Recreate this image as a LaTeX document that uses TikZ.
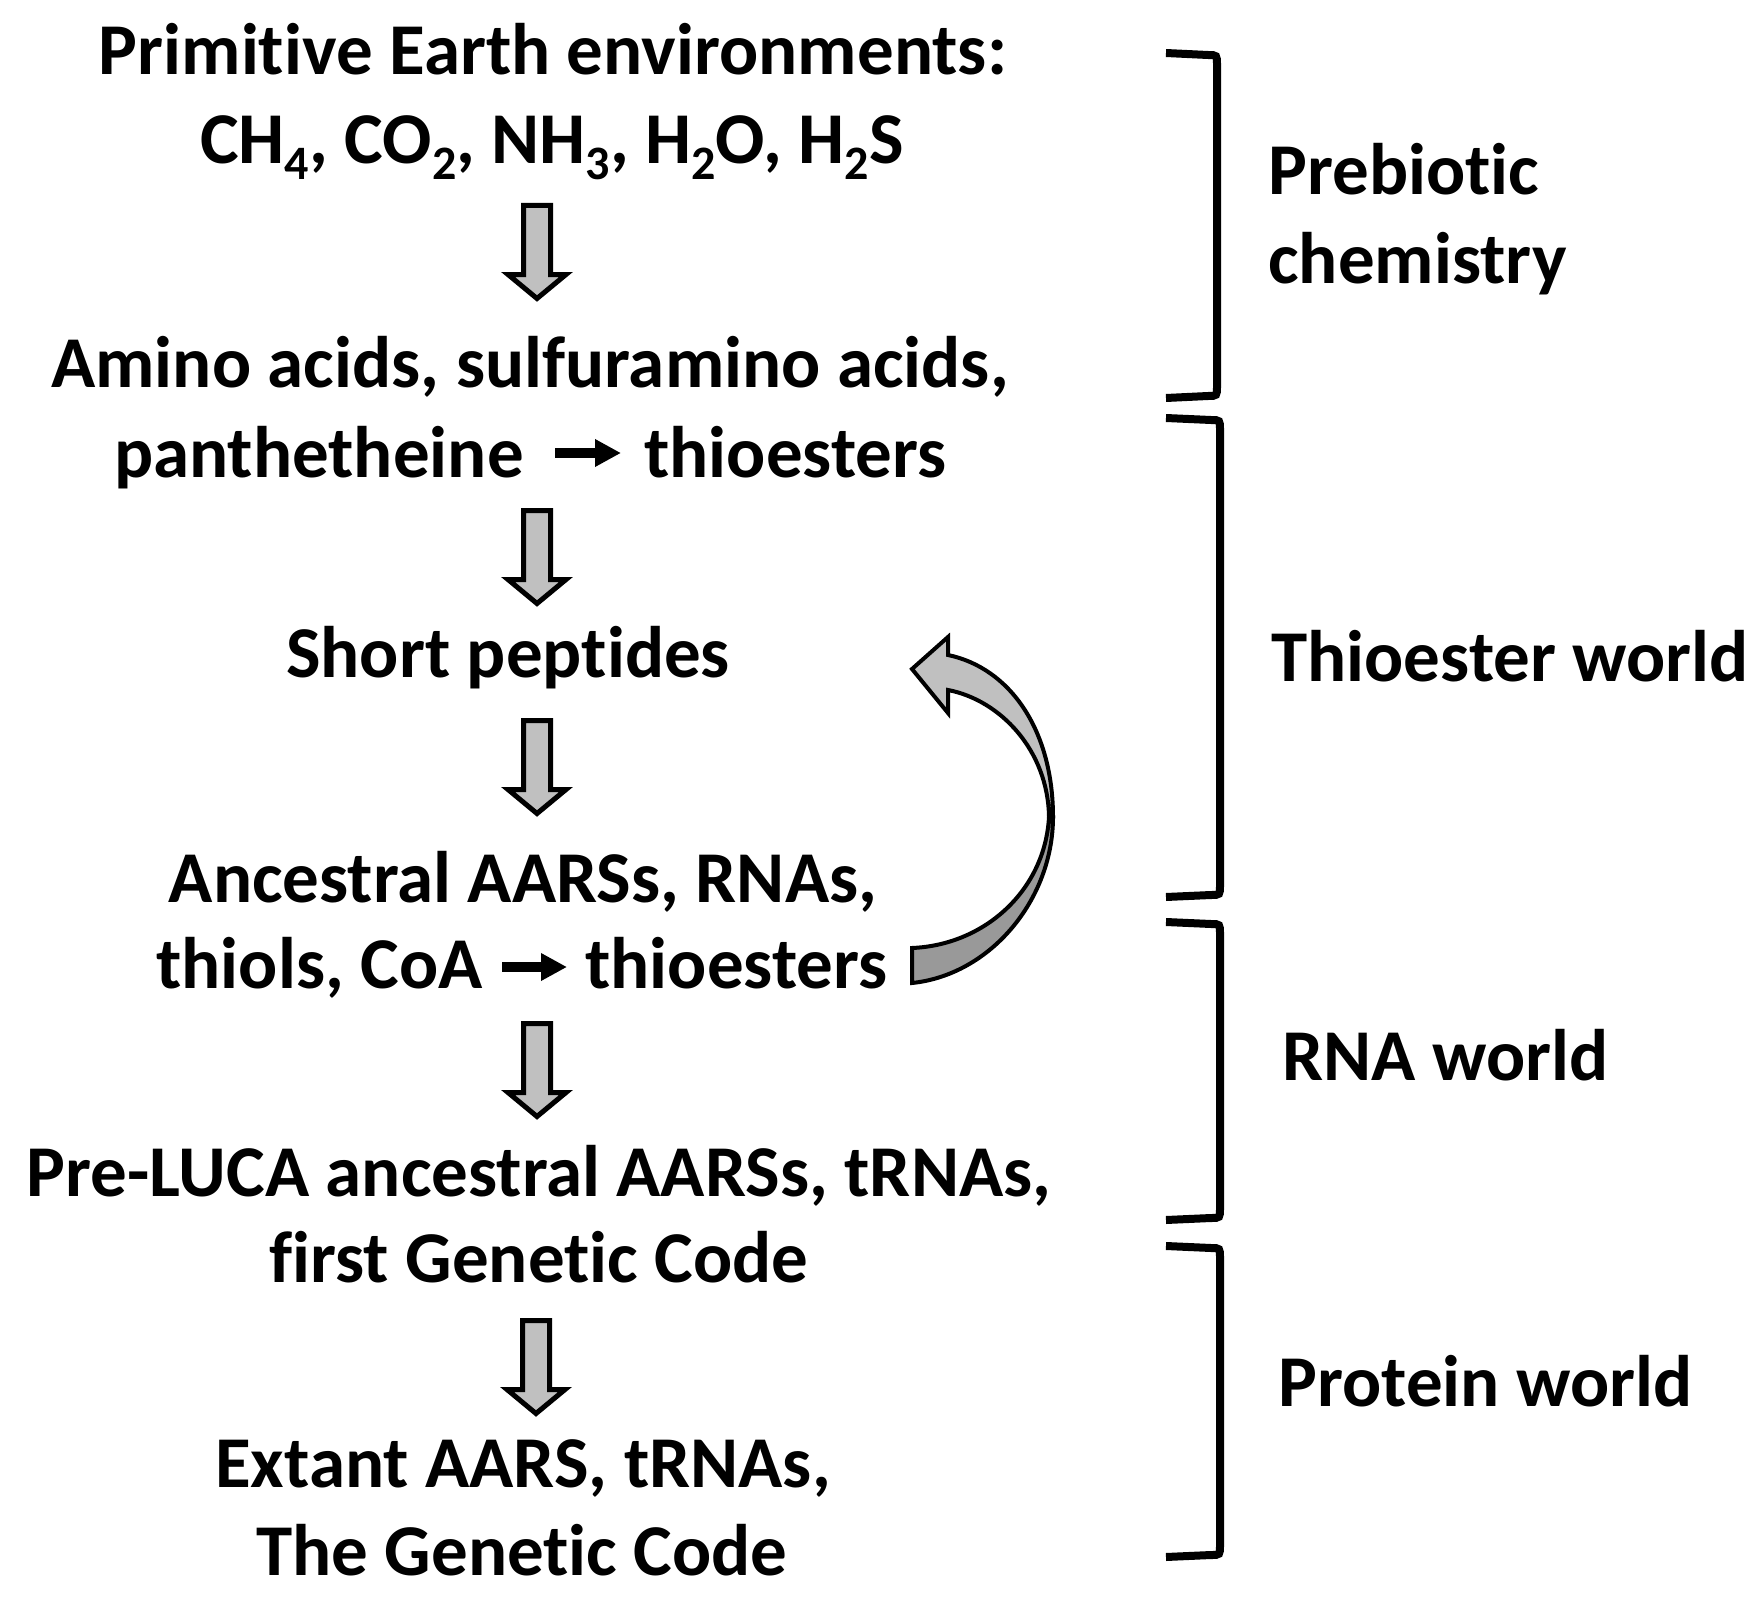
\documentclass[tikz,border=0pt]{standalone}
\usepackage{fontspec}
\setmainfont{Carlito}[Ligatures=NoCommon, Contextuals=NoAlternate]
\usetikzlibrary{arrows.meta,calc}
\definecolor{boxgray}{RGB}{192,192,192}
\definecolor{backgray}{RGB}{153,153,153}
\newcommand{\chemsub}[1]{\raisebox{-0.22em}{\fontsize{24}{24}\selectfont #1}}

\begin{document}
\begin{tikzpicture}[x=0.5pt,y=-0.5pt, line join=miter,
  txt/.style={font=\fontsize{36.5}{44}\selectfont\bfseries, inner sep=0pt},
  bigarrow/.style={draw=black, line width=2.5pt, fill=boxgray},
  brace/.style={line width=4pt},
  smallarrow/.style={line width=5pt, -{Triangle[length=13pt,width=13pt]}},
  bigdown/.pic={\draw[bigarrow] (-13.5,0) -- (13.5,0) -- (13.5,69) -- (29,69)
    -- (0,93) -- (-29,69) -- (-13.5,69) -- cycle;}]
  \useasboundingbox (0,0) rectangle (1763,1611);

  % left column, one node per printed line
  \node[txt, anchor=base] (earth) at (553,75) {Primitive Earth environments:};
  \node[txt, anchor=base] (gases) at (552,163)
    {CH\chemsub{4}, CO\chemsub{2}, NH\chemsub{3}, H\chemsub{2}O, H\chemsub{2}S};
  \node[txt, anchor=base] (amino) at (530,387) {Amino acids, sulfuramino acids,};
  \node[txt, anchor=base east] (panth) at (524,477) {panthetheine};
  \node[txt, anchor=base west] (thio1) at (644,477) {thioesters};
  \node[txt, anchor=base] (short) at (508,677) {Short peptides};
  \node[txt, anchor=base] (ances) at (523,902) {Ancestral AARSs, RNAs,};
  \node[txt, anchor=base east] (thiols) at (483,988) {thiols, CoA};
  \node[txt, anchor=base west] (thio2) at (585,988) {thioesters};
  \node[txt, anchor=base] (preluca) at (539,1196) {Pre-LUCA ancestral AARSs, tRNAs,};
  \node[txt, anchor=base] (first) at (539,1282) {first Genetic Code};
  \node[txt, anchor=base] (extant) at (523,1487) {Extant AARS, tRNAs,};
  \node[txt, anchor=base] (code) at (522,1575) {The Genetic Code};

  % small reaction arrows inside the lines
  \draw[smallarrow] ($(panth.base east)+(31,-24)$) -- ($(thio1.base west)+(-23,-24)$);
  \draw[smallarrow] ($(thiols.base east)+(19,-21)$) -- ($(thio2.base west)+(-18,-21)$);

  % block arrows between the steps
  \pic at (537,205.5) {bigdown};
  \pic at (537,510.5) {bigdown};
  \pic at (537,720.5) {bigdown};
  \pic at (537,1023.5) {bigdown};
  \pic at (536,1320.5) {bigdown};

  % twisted feedback arrow, back side first
  \filldraw[fill=backgray, draw=black, line width=2pt]
    (912,983) .. controls (990,975) and (1053,900) .. (1053,817)
    -- (1049,817) .. controls (1045,890) and (985,945) .. (912,948) -- cycle;
  \filldraw[fill=boxgray, draw=black, line width=2pt]
    (1053,817) .. controls (1053,730) and (1010,668) .. (948,655)
    -- (948,637) -- (912,669) -- (948,713) -- (948,690)
    .. controls (1000,700) and (1048,750) .. (1049,817) -- cycle;

  % brackets on the right
  \foreach \t/\b/\r in {53/398/1217, 418/897/1220, 922/1220/1220, 1246/1557/1220}
    \draw[brace] (1166,\t) -- (\r-9,\t+2) .. controls (\r,\t+2) .. (\r,\t+12)
      -- (\r,\b-12) .. controls (\r,\b-2) .. (\r-9,\b-2) -- (1166,\b);

  % era labels
  \node[txt, anchor=base west] (prebio) at (1268,194) {Prebiotic};
  \node[txt, anchor=base west] (chem) at (1268,283) {chemistry};
  \node[txt, anchor=base west] (thioworld) at (1271,681) {Thioester world};
  \node[txt, anchor=base west] (rnaworld) at (1282,1080) {RNA world};
  \node[txt, anchor=base west] (protworld) at (1278,1406) {Protein world};
\end{tikzpicture}
\end{document}
